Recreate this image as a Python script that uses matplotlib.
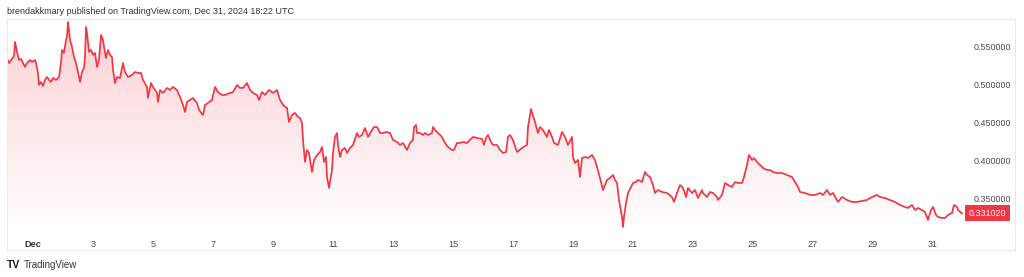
import matplotlib
matplotlib.use("Agg")
import matplotlib.pyplot as plt
import matplotlib.transforms as mtransforms
from matplotlib.patches import Rectangle
import numpy as np

plt.rcParams["font.family"] = ["Liberation Sans", "DejaVu Sans"]

# ---- data (day of December, price) ----
day = [
    0.133, 0.2, 0.3, 0.367, 0.4, 0.467, 0.533, 0.6, 0.667, 0.733, 0.8, 0.9, 0.967, 1.067, 1.1, 1.167, 1.2, 1.267, 1.333, 1.4,
    1.467, 1.533, 1.6, 1.667, 1.767, 1.867, 1.933, 1.967, 2.033, 2.1, 2.133, 2.167, 2.2, 2.233, 2.3, 2.367, 2.433, 2.5, 2.567, 2.633,
    2.7, 2.733, 2.767, 2.8, 2.867, 2.933, 3.0, 3.067, 3.133, 3.2, 3.267, 3.333, 3.367, 3.433, 3.5, 3.567, 3.633, 3.667, 3.733, 3.8,
    3.9, 4.0, 4.067, 4.167, 4.3, 4.4, 4.5, 4.6, 4.667, 4.8, 4.833, 4.933, 5.0, 5.133, 5.167, 5.233, 5.333, 5.467, 5.567, 5.667,
    5.8, 5.9, 6.0, 6.067, 6.133, 6.233, 6.333, 6.467, 6.533, 6.667, 6.733, 6.833, 6.967, 7.067, 7.167, 7.3, 7.4, 7.567, 7.667, 7.8,
    7.9, 8.0, 8.133, 8.233, 8.333, 8.467, 8.533, 8.633, 8.733, 8.867, 9.0, 9.133, 9.233, 9.333, 9.467, 9.533, 9.633, 9.733, 9.833, 9.9,
    9.967, 10.0, 10.067, 10.133, 10.2, 10.3, 10.367, 10.467, 10.567, 10.633, 10.7, 10.767, 10.8, 10.867, 10.967, 11.0, 11.067, 11.133, 11.167, 11.233,
    11.3, 11.4, 11.467, 11.567, 11.667, 11.8, 11.867, 11.967, 12.067, 12.167, 12.3, 12.367, 12.467, 12.567, 12.667, 12.767, 12.9, 13.0, 13.133, 13.233,
    13.333, 13.467, 13.567, 13.667, 13.7, 13.767, 13.8, 13.9, 14.0, 14.067, 14.167, 14.3, 14.333, 14.4, 14.5, 14.633, 14.733, 14.833, 14.967, 15.033,
    15.133, 15.233, 15.333, 15.467, 15.567, 15.667, 15.8, 15.967, 16.033, 16.1, 16.167, 16.267, 16.333, 16.467, 16.567, 16.667, 16.767, 16.833, 16.9, 17.0,
    17.133, 17.3, 17.467, 17.5, 17.6, 17.733, 17.833, 17.9, 18.0, 18.133, 18.2, 18.3, 18.367, 18.5, 18.633, 18.733, 18.833, 18.967, 19.0, 19.067,
    19.167, 19.233, 19.3, 19.4, 19.5, 19.633, 19.733, 19.8, 19.9, 20.0, 20.133, 20.233, 20.333, 20.4, 20.467, 20.533, 20.633, 20.667, 20.7, 20.767,
    20.833, 20.933, 21.0, 21.1, 21.167, 21.3, 21.4, 21.467, 21.567, 21.667, 21.733, 21.833, 21.967, 22.133, 22.3, 22.367, 22.467, 22.567, 22.667, 22.767,
    22.833, 22.967, 23.067, 23.167, 23.3, 23.333, 23.467, 23.567, 23.667, 23.8, 23.833, 23.967, 24.067, 24.167, 24.3, 24.4, 24.5, 24.633, 24.7, 24.8,
    24.867, 24.967, 25.033, 25.133, 25.233, 25.333, 25.467, 25.567, 25.667, 25.8, 25.967, 26.133, 26.3, 26.4, 26.5, 26.567, 26.733, 26.9, 27.067, 27.233,
    27.333, 27.467, 27.567, 27.667, 27.833, 27.967, 28.133, 28.3, 28.467, 28.633, 28.8, 28.967, 29.133, 29.233, 29.4, 29.567, 29.733, 29.9, 30.067, 30.167,
    30.3, 30.4, 30.5, 30.633, 30.733, 30.833, 30.933, 31.0, 31.1, 31.167, 31.3, 31.4, 31.5, 31.633, 31.7, 31.8, 31.833, 31.967,
]
price = [
    0.5355, 0.5289, 0.5342, 0.5382, 0.5566, 0.5434, 0.5329, 0.5342, 0.5289, 0.5237, 0.5289, 0.5329, 0.5303, 0.5329, 0.5289, 0.5158, 0.5000, 0.5039, 0.4987, 0.5066,
    0.5105, 0.5066, 0.5039, 0.5092, 0.5066, 0.5105, 0.5289, 0.5461, 0.5421, 0.5592, 0.5632, 0.5829, 0.5724, 0.5592, 0.5500, 0.5368, 0.5289, 0.5171, 0.5039, 0.5171,
    0.5224, 0.5368, 0.5763, 0.5684, 0.5434, 0.5461, 0.5395, 0.5421, 0.5237, 0.5329, 0.5658, 0.5592, 0.5500, 0.5355, 0.5461, 0.5395, 0.5368, 0.5197, 0.5026, 0.5105,
    0.5092, 0.5289, 0.5171, 0.5105, 0.5132, 0.5171, 0.5158, 0.5158, 0.5066, 0.4974, 0.4829, 0.5026, 0.4974, 0.4895, 0.4776, 0.4934, 0.4895, 0.4961, 0.4934, 0.4974,
    0.4934, 0.4842, 0.4737, 0.4645, 0.4776, 0.4803, 0.4829, 0.4763, 0.4671, 0.4605, 0.4737, 0.4763, 0.4803, 0.4974, 0.4908, 0.4868, 0.4868, 0.4895, 0.4908, 0.5000,
    0.4961, 0.4961, 0.5026, 0.4934, 0.4895, 0.4868, 0.4803, 0.4908, 0.4868, 0.4934, 0.4895, 0.4934, 0.4803, 0.4737, 0.4697, 0.4513, 0.4605, 0.4632, 0.4579, 0.4566,
    0.4500, 0.4276, 0.3987, 0.4145, 0.4105, 0.3855, 0.4013, 0.4079, 0.4118, 0.4184, 0.3987, 0.4053, 0.3789, 0.3645, 0.3882, 0.4105, 0.4316, 0.4368, 0.4211, 0.4053,
    0.4145, 0.4171, 0.4105, 0.4171, 0.4211, 0.4368, 0.4316, 0.4342, 0.4434, 0.4316, 0.4408, 0.4447, 0.4447, 0.4368, 0.4368, 0.4382, 0.4368, 0.4276, 0.4250, 0.4211,
    0.4237, 0.4145, 0.4237, 0.4276, 0.4447, 0.4474, 0.4368, 0.4368, 0.4342, 0.4368, 0.4342, 0.4368, 0.4447, 0.4408, 0.4368, 0.4316, 0.4237, 0.4184, 0.4145, 0.4145,
    0.4237, 0.4237, 0.4250, 0.4237, 0.4276, 0.4316, 0.4303, 0.4289, 0.4211, 0.4303, 0.4342, 0.4250, 0.4211, 0.4211, 0.4145, 0.4105, 0.4118, 0.4316, 0.4342, 0.4276,
    0.4118, 0.4171, 0.4211, 0.4447, 0.4684, 0.4513, 0.4368, 0.4447, 0.4408, 0.4316, 0.4408, 0.4316, 0.4237, 0.4211, 0.4382, 0.4316, 0.4211, 0.4316, 0.4053, 0.3974,
    0.4013, 0.3789, 0.4039, 0.4053, 0.4039, 0.4079, 0.4013, 0.3921, 0.3776, 0.3618, 0.3750, 0.3776, 0.3816, 0.3750, 0.3711, 0.3487, 0.3263, 0.3132, 0.3263, 0.3447,
    0.3579, 0.3658, 0.3711, 0.3724, 0.3750, 0.3724, 0.3855, 0.3816, 0.3789, 0.3684, 0.3579, 0.3618, 0.3592, 0.3579, 0.3526, 0.3461, 0.3579, 0.3684, 0.3645, 0.3526,
    0.3645, 0.3579, 0.3618, 0.3513, 0.3618, 0.3579, 0.3526, 0.3592, 0.3579, 0.3526, 0.3487, 0.3553, 0.3711, 0.3684, 0.3658, 0.3724, 0.3711, 0.3711, 0.3789, 0.3947,
    0.4079, 0.4013, 0.4039, 0.3987, 0.3947, 0.3908, 0.3882, 0.3882, 0.3855, 0.3842, 0.3842, 0.3816, 0.3789, 0.3724, 0.3658, 0.3592, 0.3579, 0.3553, 0.3553, 0.3579,
    0.3553, 0.3618, 0.3553, 0.3579, 0.3461, 0.3526, 0.3487, 0.3461, 0.3461, 0.3474, 0.3487, 0.3526, 0.3553, 0.3526, 0.3513, 0.3487, 0.3461, 0.3421, 0.3395, 0.3382,
    0.3421, 0.3355, 0.3382, 0.3355, 0.3329, 0.3224, 0.3355, 0.3395, 0.3289, 0.3263, 0.3250, 0.3250, 0.3289, 0.3316, 0.3421, 0.3395, 0.3355, 0.3310,
]
last_price = 0.331020
price_ticks = [0.35, 0.40, 0.45, 0.50, 0.55]
price_tick_labels = ["0.350000", "0.400000", "0.450000", "0.500000", "0.550000"]
date_ticks = [1, 3, 5, 7, 9, 11, 13, 15, 17, 19, 21, 23, 25, 27, 29, 31]
date_tick_labels = ["Dec", "3", "5", "7", "9", "11", "13", "15", "17", "19", "21", "23", "25", "27", "29", "31"]

RED = "#F23645"
W, H = 1024, 277
fig = plt.figure(figsize=(W / 100, H / 100), dpi=100)
fig.patch.set_facecolor("white")

# axes rect in pixels: x 7..968, y 19..230 (from top)
L, R, T, B = 7, 968, 19, 230
ax = fig.add_axes([L / W, 1 - B / H, (R - L) / W, (B - T) / H])
ax.set_facecolor("none")

ymin, ymax = 0.3092, 0.5868
xmin, xmax = 0.133, 32.167
ax.set_xlim(xmin, xmax)
ax.set_ylim(ymin, ymax)

# gradient fill under the line
poly = ax.fill_between(day, price, ymin, color="none", lw=0)
grad = np.zeros((256, 2, 4))
rgb = matplotlib.colors.to_rgb(RED)
grad[..., 0], grad[..., 1], grad[..., 2] = rgb
alpha = np.linspace(0.24, 0.0, 256)
grad[..., 3] = alpha[:, None]
im = ax.imshow(grad, extent=[xmin, xmax, ymin, 0.585], origin="upper", aspect="auto", zorder=1)
path = poly.get_paths()[0]
im.set_clip_path(path, transform=ax.transData)

ax.plot(day, price, color=RED, lw=1.25, zorder=3, solid_joinstyle="round")

for s in ax.spines.values():
    s.set_visible(False)

ax.yaxis.tick_right()
ax.set_yticks(price_ticks)
ax.set_yticklabels(price_tick_labels)
ax.set_xticks(date_ticks)
ax.set_xticklabels(date_tick_labels)
ax.tick_params(axis="y", length=0, pad=4, labelsize=6.4, labelcolor="#4a4a4a")
ax.tick_params(axis="x", length=0, pad=7, labelsize=6.6, labelcolor="#4a4a4a")
for lbl in ax.get_xticklabels():
    if lbl.get_text() == "Dec":
        lbl.set_fontweight("bold")
        lbl.set_color("#333333")

# last price tag
trans = mtransforms.blended_transform_factory(ax.transAxes, ax.transData)
ax.text(1.0 + 1 / (R - L), last_price, f"{last_price:.6f}", transform=trans, ha="left", va="center",
        fontsize=6.4, color="white",
        bbox=dict(boxstyle="square,pad=0.4", fc=RED, ec=RED, lw=0), clip_on=False, zorder=5)

# frame
fig.add_artist(Rectangle((L / W, 1 - 250 / H), (1015 - L) / W, (250 - T) / H, transform=fig.transFigure,
                         fill=False, ec="#E6E8EE", lw=0.8))

# header / footer texts
fig.text(L / W, 1 - 12 / H, "brendakkmary published on TradingView.com, Dec 31, 2024 18:22 UTC",
         ha="left", va="center", fontsize=6.5, color="#333333")
fig.text(L / W, 1 - 265 / H, "TV", ha="left", va="center", fontsize=7.5, fontweight="heavy", color="#131722")
fig.text(24 / W, 1 - 265 / H, "TradingView", ha="left", va="center", fontsize=7, color="#333333")

fig.savefig("out.png", dpi=100, facecolor="white")
